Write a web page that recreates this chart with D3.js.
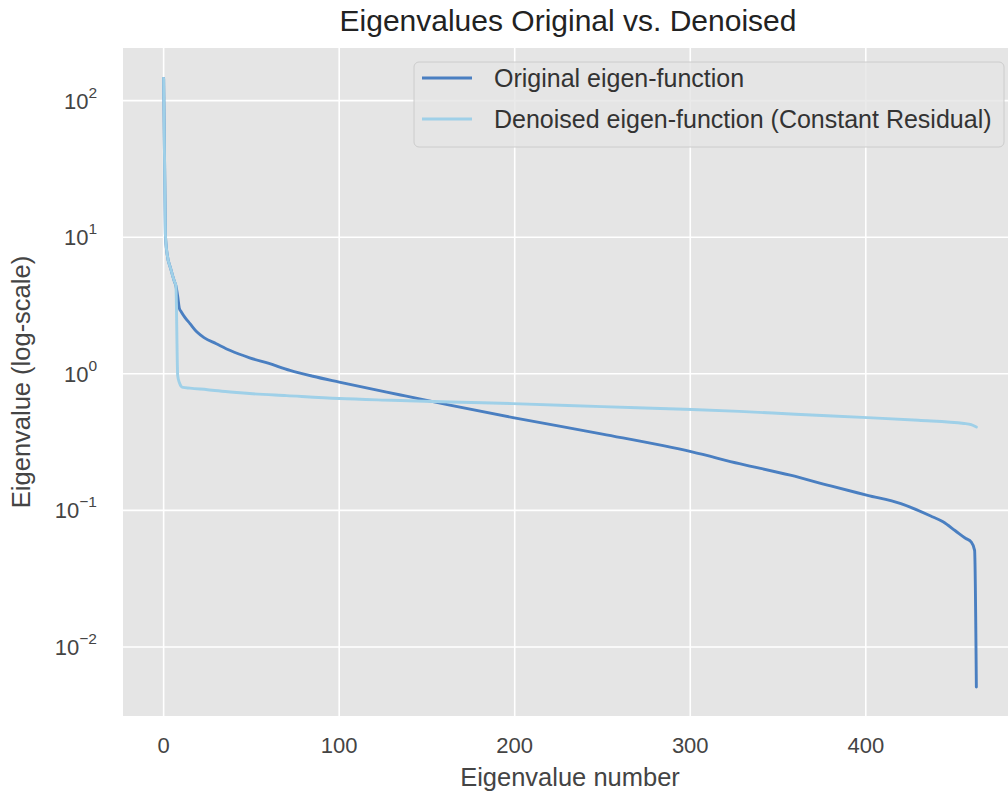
<!DOCTYPE html>
<html>
<head>
<meta charset="utf-8">
<script src="https://cdn.jsdelivr.net/npm/d3@7"></script>
<style>
  html, body { margin: 0; padding: 0; background: #fff; }
  svg { display: block; font-family: "Liberation Sans", Arial, sans-serif; }
</style>
</head>
<body>
<svg id="chart" width="1008" height="798"></svg>
<script>
// ---- Data ----
const origIdx  = [0, 1, 2, 4, 6, 7, 8, 9, 10, 12, 15, 19, 23, 30, 38, 49, 60, 72, 85, 100, 135, 163, 199, 250, 301, 328, 357, 380, 401, 420, 437, 444, 451, 457, 460, 462, 463];
const origVals = [145, 10.5, 7.5, 5.9, 4.8, 4.4, 3.7, 3.0, 2.85, 2.6, 2.33, 2.02, 1.84, 1.66, 1.48, 1.31, 1.19, 1.06, 0.96, 0.87, 0.70, 0.59, 0.478, 0.362, 0.268, 0.22, 0.181, 0.151, 0.129, 0.112, 0.091, 0.0825, 0.071, 0.0623, 0.0589, 0.051, 0.0051];

const denIdx  = [0, 1, 2, 4, 6, 7, 8, 9, 10, 11, 15, 25, 38, 49, 70, 100, 130, 163, 199, 250, 301, 328, 360, 401, 430, 456, 460, 463];
const denVals = [145, 10.5, 7.5, 5.9, 4.8, 4.4, 0.97, 0.86, 0.81, 0.795, 0.785, 0.765, 0.736, 0.717, 0.692, 0.659, 0.64, 0.622, 0.605, 0.575, 0.548, 0.531, 0.506, 0.478, 0.457, 0.433, 0.424, 0.408];

const seriesNames = ["Original eigen-function", "Denoised eigen-function (Constant Residual)"];
const seriesColors = ["#4a7fc1", "#9fd0e8"];
const xTicks = [0, 100, 200, 300, 400];
const yTickExps = [-2, -1, 0, 1, 2];

const titleText = "Eigenvalues Original vs. Denoised";
const xLabel = "Eigenvalue number";
const yLabel = "Eigenvalue (log-scale)";

// ---- Layout ----
const svg = d3.select("#chart");
const plot = { left: 123, right: 1017, top: 48, bottom: 716 };

const x = d3.scaleLinear().domain([-23.15, 486.15]).range([plot.left, plot.right]);
const y = d3.scaleLog().domain([Math.pow(10, -2.505), Math.pow(10, 2.385)]).range([plot.bottom, plot.top]);

svg.append("rect").attr("width", 1008).attr("height", 798).attr("fill", "#ffffff");

svg.append("defs").append("clipPath").attr("id", "clip")
  .append("rect").attr("x", plot.left).attr("y", plot.top)
  .attr("width", plot.right - plot.left).attr("height", plot.bottom - plot.top);

svg.append("rect")
  .attr("x", plot.left).attr("y", plot.top)
  .attr("width", plot.right - plot.left).attr("height", plot.bottom - plot.top)
  .attr("fill", "#e5e5e5");

// grid
const grid = svg.append("g").attr("clip-path", "url(#clip)");
grid.selectAll("line.xg").data(xTicks).enter().append("line")
  .attr("x1", d => x(d)).attr("x2", d => x(d))
  .attr("y1", plot.top).attr("y2", plot.bottom)
  .attr("stroke", "#ffffff").attr("stroke-width", 1.6);
grid.selectAll("line.yg").data(yTickExps).enter().append("line")
  .attr("y1", d => y(Math.pow(10, d))).attr("y2", d => y(Math.pow(10, d)))
  .attr("x1", plot.left).attr("x2", plot.right)
  .attr("stroke", "#ffffff").attr("stroke-width", 1.6);

// lines
const line = d3.line().x(d => x(d[0])).y(d => y(d[1])).curve(d3.curveMonotoneX);
const lines = svg.append("g").attr("clip-path", "url(#clip)");
const origData = origIdx.map((d, i) => [d, origVals[i]]);
const denData = denIdx.map((d, i) => [d, denVals[i]]);
lines.append("path").datum(origData).attr("d", line)
  .attr("fill", "none").attr("stroke", seriesColors[0]).attr("stroke-width", 2.9)
  .attr("stroke-linejoin", "round").attr("stroke-linecap", "round");
lines.append("path").datum(denData).attr("d", line)
  .attr("fill", "none").attr("stroke", seriesColors[1]).attr("stroke-width", 2.9)
  .attr("stroke-linejoin", "round").attr("stroke-linecap", "round");

// x tick labels
svg.append("g").selectAll("text").data(xTicks).enter().append("text")
  .attr("x", d => x(d)).attr("y", 753)
  .attr("text-anchor", "middle").attr("font-size", 22).attr("fill", "#444")
  .text(d => d);

// y tick labels with superscripts
const yt = svg.append("g").selectAll("text").data(yTickExps).enter().append("text")
  .attr("x", 97).attr("y", d => y(Math.pow(10, d)) + 8)
  .attr("text-anchor", "end").attr("font-size", 22).attr("fill", "#444");
yt.append("tspan").text("10");
yt.append("tspan").attr("dy", -11).attr("font-size", 15.5)
  .text(d => d < 0 ? "\u2212" + Math.abs(d) : String(d));

// axis labels
svg.append("text").attr("x", 570).attr("y", 786)
  .attr("text-anchor", "middle").attr("font-size", 25.5).attr("fill", "#444").text(xLabel);
svg.append("text")
  .attr("transform", `translate(30, ${(plot.top + plot.bottom) / 2}) rotate(-90)`)
  .attr("text-anchor", "middle").attr("font-size", 25.5).attr("fill", "#444").text(yLabel);

// title
svg.append("text").attr("x", 568).attr("y", 31)
  .attr("text-anchor", "middle").attr("font-size", 30).attr("fill", "#222").text(titleText);

// legend
const leg = svg.append("g");
leg.append("rect").attr("x", 414).attr("y", 62).attr("width", 590).attr("height", 85)
  .attr("rx", 5).attr("fill", "#e5e5e5").attr("fill-opacity", 0.8)
  .attr("stroke", "#cccccc").attr("stroke-width", 1);
const legRows = [78, 119];
seriesNames.forEach((name, i) => {
  leg.append("line").attr("x1", 422).attr("x2", 472)
    .attr("y1", legRows[i]).attr("y2", legRows[i])
    .attr("stroke", seriesColors[i]).attr("stroke-width", 2.9);
  leg.append("text").attr("x", 494).attr("y", legRows[i] + 8.5)
    .attr("font-size", 25).attr("fill", "#333").text(name);
});
</script>
</body>
</html>
